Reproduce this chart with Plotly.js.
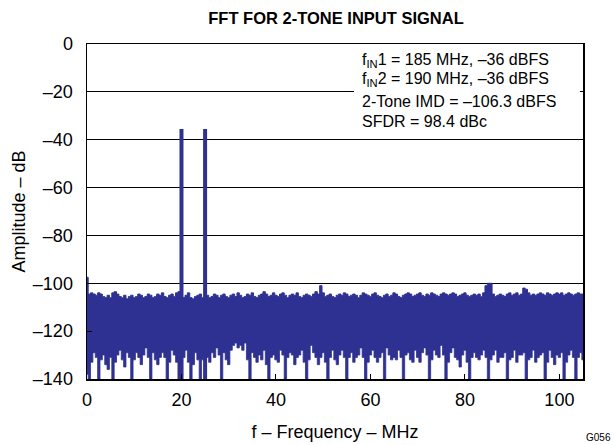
<!DOCTYPE html>
<html>
<head>
<meta charset="utf-8">
<script src="https://cdn.plot.ly/plotly-3.0.1.min.js"></script>
<style>html,body{margin:0;padding:0;background:#fff;}#chart{width:614px;height:445px;}</style>
</head>
<body>
<div id="chart"></div>
<script>
// Frequency bins: 0 .. 105 MHz at 0.5 MHz spacing (x0 = 0, dx = 0.5)
var binStart = 0;
var binStep = 0.5;

// Upper envelope of the noise floor (dB), one value per bin
var noiseTop = [
  -97.5, -104.5, -104, -104.5, -105, -104, -104.5, -105.5, -106, -105, -106, -104, -103.5, -104.5, -105.5, -106, -105, -106.5, -105.5, -105,
  -106, -105.5, -104.5, -105, -106, -105.5, -104.5, -105, -106, -105.5, -104.5, -105, -104, -105.5, -106, -105, -104.5, -105.5, -104, -103.5,
  -105.5, -106, -105, -104, -106, -106.5, -105.5, -105, -104.5, -106, -105.5, -105, -106, -105.5, -104.5, -105, -106, -105, -104.5, -105.5,
  -106, -105, -104.5, -105.5, -104, -105, -106, -105.5, -104.5, -105, -104, -105.5, -106, -105, -104.5, -103.5, -104.5, -105.5, -105, -104,
  -105, -105.5, -104.5, -104, -105, -106, -105, -104.5, -105, -104, -105.5, -106, -105, -104.5, -105, -105.5, -104.5, -103.5, -104.5, -101,
  -104, -105.5, -105, -104.5, -105.5, -106, -105, -104.5, -105, -104, -104.5, -105.5, -105, -104.5, -105, -106, -105, -104, -104.5, -105,
  -105.5, -104.5, -104, -105, -105.5, -106, -105, -104.5, -105.5, -105, -104, -104.5, -105.5, -106, -105, -104.5, -104, -104.5, -105.5, -105,
  -104.5, -104, -105, -105.5, -104.5, -105, -104, -104.5, -105, -105.5, -104.5, -104, -104.5, -105, -104.5, -104, -104.5, -105.5, -105, -104.5,
  -104, -105, -105.5, -105, -104.5, -105, -104.5, -105.5, -104, -101, -100, -100, -104.5, -105.5, -105, -104.5, -105, -105.5, -104.5, -104,
  -105, -104.5, -104, -105, -104.5, -102, -102.5, -104, -105, -104.5, -105, -104.5, -104, -104.5, -105, -104, -104.5, -105, -104.5, -104,
  -104.5, -104, -105, -104.5, -104, -104.5, -105, -104.5, -104, -104.5, -104.5
];

// Lower envelope of the noise floor (dB), one value per bin
var noiseBottom = [
  -138, -140, -133, -129, -131, -140, -132, -130, -134, -136, -131, -140, -133, -130, -128, -132, -135, -129, -131, -140,
  -132, -129, -131, -134, -130, -127, -131, -140, -129, -132, -134, -131, -129, -131, -140, -133, -128, -130, -133, -140,
  -140, -131, -128, -133, -140, -134, -129, -132, -140, -132, -128, -131, -133, -129, -131, -127, -130, -140, -129, -132,
  -134, -128, -126, -125, -127, -126, -128, -125, -132, -140, -129, -131, -133, -130, -132, -128, -134, -140, -131, -130,
  -132, -133, -128, -130, -140, -131, -129, -130, -134, -131, -130, -128, -133, -140, -132, -126, -129, -131, -134, -131,
  -129, -133, -140, -131, -128, -132, -134, -130, -128, -131, -140, -131, -129, -133, -131, -130, -127, -131, -140, -133,
  -130, -128, -131, -133, -131, -129, -140, -127, -130, -132, -131, -132, -128, -131, -140, -130, -129, -132, -133, -128,
  -131, -133, -129, -127, -130, -140, -132, -128, -130, -131, -126, -130, -140, -133, -129, -127, -131, -132, -135, -130,
  -128, -133, -140, -131, -129, -131, -132, -130, -128, -131, -140, -132, -130, -128, -133, -131, -131, -129, -140, -132,
  -131, -128, -133, -130, -130, -129, -140, -132, -131, -128, -133, -131, -130, -129, -140, -133, -128, -131, -134, -130,
  -131, -129, -140, -133, -130, -128, -131, -140, -131, -129, -132
];

// The two input tones (after aliasing) in MHz and their amplitudes (dB)
var toneFreq = [20, 25];
var toneAmp = [-35.5, -35.5];

var yTickVals = [0, -20, -40, -60, -80, -100, -120, -140];
var yTickText = ['0', '\u201320', '\u201340', '\u201360', '\u201380', '\u2013100', '\u2013120', '\u2013140'];
var xTickVals = [0, 20, 40, 60, 80, 100];
var xTickText = ['0', '20', '40', '60', '80', '100'];

var infoLines = [
  'f<sub>IN</sub>1 = 185 MHz, \u201336 dBFS',
  'f<sub>IN</sub>2 = 190 MHz, \u201336 dBFS',
  '2-Tone IMD = \u2013106.3 dBFS',
  'SFDR = 98.4 dBc'
];

var navy = '#2E3192';
var floorDb = -140;

var toneX = [], toneY = [];
for (var i = 0; i < toneFreq.length; i++) {
  toneX.push(toneFreq[i], toneFreq[i], null);
  toneY.push(floorDb, toneAmp[i], null);
}

var traces = [
  {type: 'scatter', mode: 'lines', x0: binStart, dx: binStep, y: noiseBottom,
   line: {color: navy, width: 0.8, shape: 'hvh'}, hoverinfo: 'skip', showlegend: false},
  {type: 'scatter', mode: 'lines', x0: binStart, dx: binStep, y: noiseTop,
   fill: 'tonexty', fillcolor: navy,
   line: {color: navy, width: 1, shape: 'hvh'}, hoverinfo: 'skip', showlegend: false},
  {type: 'scatter', mode: 'lines', x: toneX, y: toneY,
   line: {color: navy, width: 4}, hoverinfo: 'skip', showlegend: false}
];

var fontFam = 'Liberation Sans, Arial, Helvetica, sans-serif';
var annotations = [];
var lineY = [60, 79, 101, 122];
for (var k = 0; k < infoLines.length; k++) {
  annotations.push({
    xref: 'paper', yref: 'paper',
    x: (360 - 87) / 496, y: (379 - lineY[k]) / 335,
    xanchor: 'left', yanchor: 'middle',
    text: infoLines[k], showarrow: false, align: 'left',
    font: {family: fontFam, size: 16, color: '#000'}
  });
}
annotations.push({
  xref: 'paper', yref: 'paper', x: (598 - 87) / 496, y: (379 - 437) / 335,
  xanchor: 'center', yanchor: 'middle', text: 'G056', showarrow: false,
  font: {family: fontFam, size: 10, color: '#000'}
});

var layout = {
  width: 614, height: 445,
  margin: {l: 87, r: 31, t: 44, b: 66},
  paper_bgcolor: '#fff', plot_bgcolor: '#fff',
  font: {family: fontFam, size: 18, color: '#000'},
  title: {text: '<b>FFT FOR 2-TONE INPUT SIGNAL</b>', font: {family: fontFam, size: 16.5, color: '#000'},
          x: 336 / 614, xanchor: 'center', xref: 'container', y: 1 - 18 / 445, yanchor: 'middle', yref: 'container'},
  xaxis: {
    range: [0, 105], tickvals: xTickVals, ticktext: xTickText,
    ticks: 'inside', ticklen: 5, tickwidth: 1, tickcolor: '#000',
    showgrid: false, zeroline: false, showline: true, mirror: true,
    linecolor: '#000', linewidth: 1.5, ticklabelstandoff: 4,
    tickfont: {family: fontFam, size: 18, color: '#000'},
    title: {text: 'f \u2013 Frequency \u2013 MHz', font: {family: fontFam, size: 18, color: '#000'}, standoff: 16}
  },
  yaxis: {
    range: [-140, 0], tickvals: yTickVals, ticktext: yTickText,
    ticks: 'inside', ticklen: 5, tickwidth: 1, tickcolor: '#000',
    showgrid: true, gridcolor: '#000', gridwidth: 1, zeroline: false,
    showline: true, mirror: true, linecolor: '#000', linewidth: 1.5, ticklabelstandoff: 9,
    tickfont: {family: fontFam, size: 18, color: '#000'},
    title: {text: 'Amplitude \u2013 dB', font: {family: fontFam, size: 18, color: '#000'}, standoff: 2}
  },
  shapes: [{
    type: 'rect', xref: 'paper', yref: 'paper', layer: 'above',
    x0: (354 - 87) / 496, x1: (580 - 87) / 496, y0: (379 - 134) / 335, y1: (379 - 47) / 335,
    fillcolor: '#fff', line: {width: 0}
  }],
  annotations: annotations
};

Plotly.newPlot('chart', traces, layout, {staticPlot: true, displayModeBar: false});
</script>
</body>
</html>
